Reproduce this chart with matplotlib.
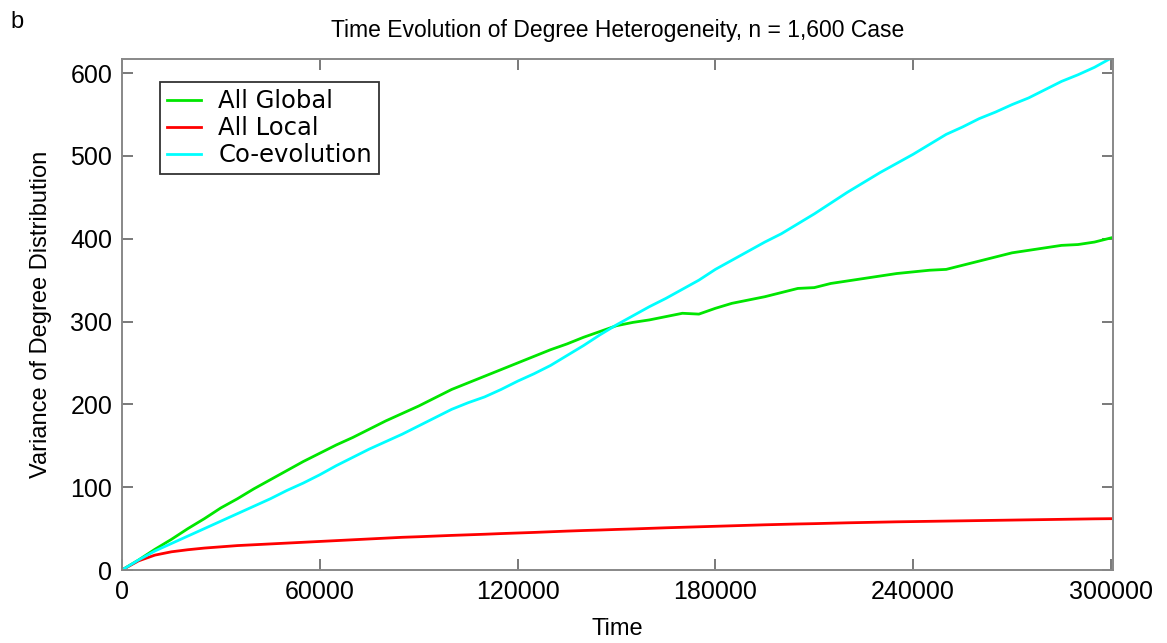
import matplotlib
matplotlib.use("Agg")
import matplotlib.pyplot as plt
import numpy as np

time_k = list(range(0, 301, 5))
time = [t * 1000 for t in time_k]

all_global = [0, 12, 25, 37, 50, 62, 75, 86, 98, 109, 120, 131, 141, 151, 160, 170,
              180, 189, 198, 208, 218, 226, 234, 242, 250, 258, 266, 273, 281, 288,
              295, 299, 302, 306, 310, 309, 316, 322, 326, 330, 335, 340, 341, 346,
              349, 352, 355, 358, 360, 362, 363, 368, 373, 378, 383, 386, 389, 392,
              393, 396, 401]

all_local = [0, 11, 18, 22, 24.5, 26.5, 28, 29.5, 30.5, 31.5, 32.5, 33.5, 34.5, 35.5,
             36.5, 37.5, 38.5, 39.5, 40.2, 41, 41.8, 42.5, 43.2, 44, 44.7, 45.4, 46.2,
             47, 47.7, 48.3, 49, 49.6, 50.3, 51, 51.6, 52.2, 52.8, 53.4, 54, 54.6, 55.1,
             55.6, 56, 56.5, 57, 57.4, 57.8, 58.2, 58.5, 58.8, 59.1, 59.4, 59.7, 60,
             60.3, 60.6, 60.9, 61.2, 61.5, 61.8, 62]

co_evolution = [0, 12, 23, 32, 41, 50, 59, 68, 77, 86, 96, 105, 115, 126, 136, 146,
                155, 164, 174, 184, 194, 202, 209, 218, 228, 237, 247, 259, 271, 284,
                296, 307, 318, 328, 339, 350, 363, 374, 385, 396, 406, 418, 430, 443,
                456, 468, 480, 491, 502, 514, 526, 535, 545, 553, 562, 570, 580, 590,
                598, 607, 618]

series_labels = ["All Global", "All Local", "Co-evolution"]
x_ticks = [0, 60000, 120000, 180000, 240000, 300000]
y_ticks = [0, 100, 200, 300, 400, 500, 600]

fig = plt.figure(figsize=(11.67, 6.43), dpi=100)
ax = fig.add_axes([0.1045, 0.1135, 0.8492, 0.7947])

ax.plot(time, all_global, color="#00e600", lw=2.0, label=series_labels[0])
ax.plot(time, all_local, color="#ff0000", lw=2.0, label=series_labels[1])
ax.plot(time, co_evolution, color="#00ffff", lw=2.0, label=series_labels[2])

ax.set_xlim(0, 300600)
ax.set_ylim(0, 617)
ax.set_xticks(x_ticks)
ax.set_xticklabels([str(v) for v in x_ticks])
ax.set_yticks(y_ticks)
ax.set_yticklabels([str(v) for v in y_ticks])

for s in ax.spines.values():
    s.set_color("#888888")
    s.set_linewidth(1.4)
ax.tick_params(direction="in", length=8, width=1.1, color="#555555",
               top=True, right=True, labelsize=18, pad=7)
for lab in ax.get_xticklabels() + ax.get_yticklabels():
    lab.set_fontfamily("Liberation Sans")

ax.set_xlabel("Time", fontsize=17, family="Liberation Sans", labelpad=10)
ax.set_ylabel("Variance of Degree Distribution", fontsize=17,
              family="Liberation Sans", labelpad=13)
ax.set_title("Time Evolution of Degree Heterogeneity, n = 1,600 Case",
             fontsize=16.5, family="Liberation Sans", pad=15.5)
fig.text(0.009, 0.966, "b", fontsize=17, family="Liberation Sans", va="center")

leg = ax.legend(loc="upper left", bbox_to_anchor=(0.0385, 0.955),
                prop={"family": "DejaVu Sans", "size": 17.5},
                frameon=True, fancybox=False, edgecolor="black",
                handlelength=1.4, handletextpad=0.7, labelspacing=0.12,
                borderpad=0.3, borderaxespad=0)
leg.get_frame().set_linewidth(1.3)

fig.savefig("out.png", dpi=100)
